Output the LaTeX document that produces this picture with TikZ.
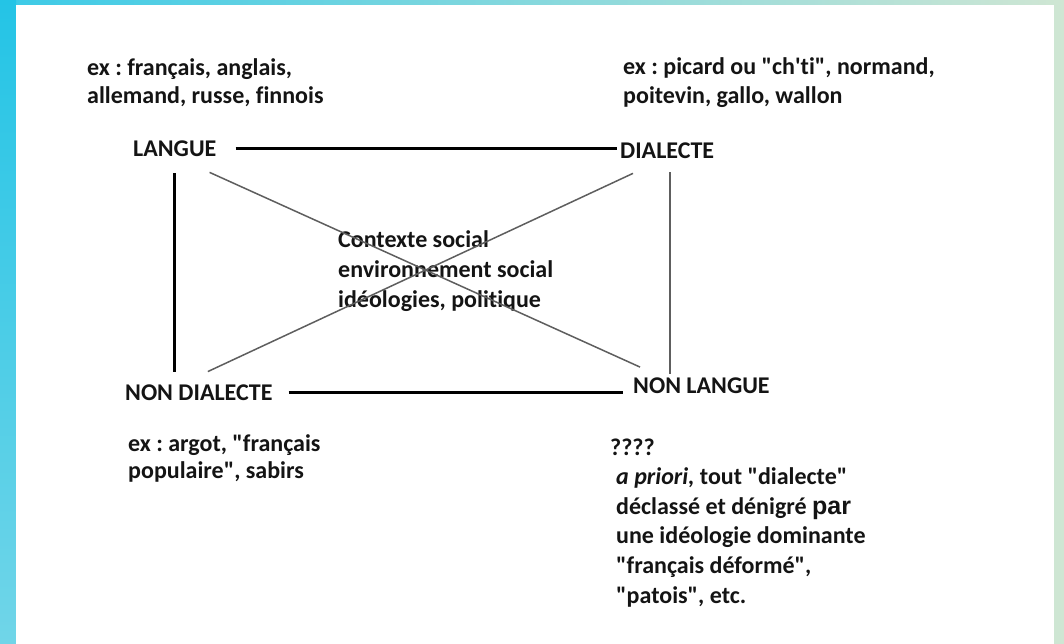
\documentclass[tikz,border=0pt]{standalone}
\usepackage{fontspec}
\setmainfont{Carlito}[Ligatures={TeXOff,NoCommon}]
\newfontfamily\parfont{Liberation Sans}[Ligatures={TeXOff,NoCommon}]
\frenchspacing
\definecolor{ink}{HTML}{141414}
\definecolor{bgl}{HTML}{3CCAE7}
\definecolor{bgr}{HTML}{CFE6D3}
\definecolor{bgtl}{HTML}{24C4E6}
\definecolor{bgbl}{HTML}{70D5E8}
\definecolor{thingray}{HTML}{5E5E5E}
\begin{document}
\begin{tikzpicture}[x=1pt,y=-1pt,
  lbl/.style={anchor=base west, inner sep=0pt, font=\fontsize{24}{28}\selectfont\bfseries, text=ink},
  thickline/.style={draw=black, line width=3pt},
  thinline/.style={draw=thingray, line width=1.5pt}]
\useasboundingbox (0,0) rectangle (1064,643);
% background frame
\shade[left color=bgl, right color=bgr] (0,0) rectangle (1064,643);
\shade[top color=bgtl, bottom color=bgbl] (0,0) rectangle (16,643);
\fill[white] (16,5) rectangle (1054,645);
% texts
\node[lbl] (exlangue) at (87,75) {\vtop{\baselineskip=28pt\hbox{ex : français, anglais,}\hbox{allemand, russe, finnois}}};
\node[lbl] (exdialecte) at (623,74) {\vtop{\baselineskip=29pt\hbox{ex : picard ou "ch'ti", normand,}\hbox{poitevin, gallo, wallon}}};
\node[lbl] (langue) at (133,156) {LANGUE};
\node[lbl] (dialecte) at (620,158) {DIALECTE};
\node[lbl] (nondialecte) at (125,400) {NON DIALECTE};
\node[lbl] (nonlangue) at (633,393) {NON LANGUE};
\node[lbl] (exnondialecte) at (128,451) {\vtop{\baselineskip=27.5pt\hbox{ex : argot, "français}\hbox{populaire", sabirs}}};
\node[lbl] (exnonlangue) at (610,455) {\vtop{\baselineskip=29.6pt
  \hbox{????}
  \hbox{\hspace{6pt}\textit{a priori,} tout "dialecte"}
  \hbox{\hspace{6pt}déclassé et dénigré {\parfont\fontsize{25}{28}\selectfont par}}
  \hbox{\hspace{6pt}une idéologie dominante}
  \hbox{\hspace{6pt}"français déformé",}
  \hbox{\hspace{6pt}"patois", etc.}}};
\node[lbl] (contexte) at (338,247) {\vtop{\baselineskip=30pt\hbox{Contexte social}\hbox{environnement social}\hbox{idéologies, politique}}};
% connectors
\draw[thickline, shorten <=19pt, shorten >=3pt] (langue.east) -- (dialecte.west |- langue.east);
\draw[thickline, shorten <=17pt, shorten >=12pt] (langue.south) -- (langue.south |- nondialecte.north);
\draw[thickline, shorten <=16pt, shorten >=10pt] (nondialecte.east) -- (nonlangue.west |- nondialecte.east);
\draw[thinline, transform canvas={xshift=3pt}, shorten <=14pt, shorten >=3pt] (dialecte.south) -- (dialecte.south |- nonlangue.north);
\draw[thinline] ([shift={(-7,16)}]langue.south east) -- ([shift={(7,-10)}]nonlangue.north west);
\draw[thinline] ([shift={(13,15)}]dialecte.south west) -- ([shift={(9,-12.5)}]nondialecte.north);
\end{tikzpicture}
\end{document}
